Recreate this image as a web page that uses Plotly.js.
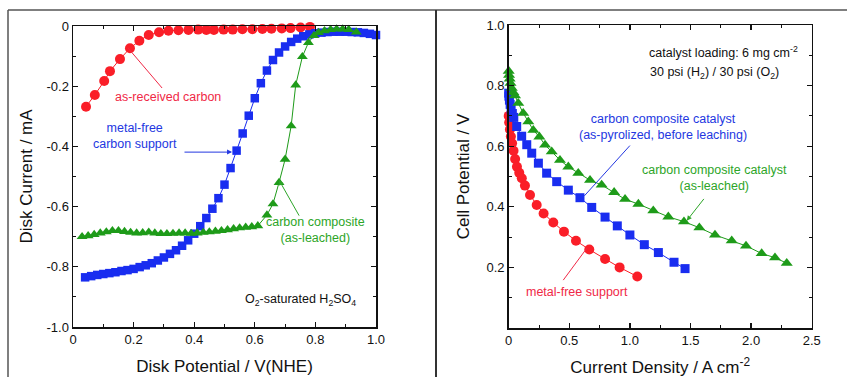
<!DOCTYPE html>
<html>
<head>
<meta charset="utf-8">
<script src="https://cdn.plot.ly/plotly-3.0.1.min.js"></script>
<style>html,body{margin:0;padding:0;background:#fff;}#chart{width:847px;height:377px;}</style>
</head>
<body>
<div id="chart"></div>
<script>
// ---------- Left panel: RDE disk current ----------
const asReceivedX = [0.043,0.072,0.103,0.122,0.155,0.188,0.219,0.25,0.284,0.315,0.348,0.381,0.413,0.44,0.465,0.497,0.527,0.559,0.592,0.625,0.655,0.689,0.718,0.751,0.782];
const asReceivedY = [-0.268,-0.229,-0.183,-0.150,-0.110,-0.074,-0.049,-0.030,-0.021,-0.016,-0.014,-0.013,-0.012,-0.013,-0.013,-0.012,-0.012,-0.011,-0.011,-0.010,-0.009,-0.008,-0.007,-0.005,-0.003];

const metalFreeX = [0.04,0.06,0.08,0.10,0.12,0.14,0.16,0.18,0.20,0.22,0.24,0.26,0.28,0.30,0.32,0.34,0.36,0.38,0.40,0.42,0.44,0.46,0.48,0.50,0.52,0.54,0.56,0.58,0.60,0.62,0.64,0.66,0.68,0.70,0.72,0.74,0.76,0.78,0.80,0.82,0.84,0.86,0.88,0.90,0.92,0.94,0.96,0.98,1.00];
const metalFreeY = [-0.835,-0.831,-0.827,-0.824,-0.821,-0.818,-0.814,-0.811,-0.807,-0.801,-0.795,-0.788,-0.779,-0.769,-0.757,-0.745,-0.730,-0.712,-0.690,-0.665,-0.638,-0.607,-0.572,-0.527,-0.472,-0.414,-0.357,-0.298,-0.240,-0.190,-0.148,-0.113,-0.088,-0.068,-0.053,-0.042,-0.034,-0.028,-0.024,-0.022,-0.020,-0.019,-0.019,-0.019,-0.020,-0.021,-0.023,-0.026,-0.030];

const compositeX = [0.03,0.05,0.07,0.09,0.11,0.13,0.15,0.17,0.19,0.21,0.23,0.25,0.27,0.29,0.31,0.33,0.35,0.37,0.39,0.41,0.43,0.45,0.47,0.49,0.51,0.53,0.55,0.57,0.59,0.61,0.64,0.66,0.68,0.70,0.72,0.735,0.757,0.777,0.795,0.81,0.83,0.85,0.87,0.89,0.91,0.935];
const compositeY = [-0.700,-0.697,-0.693,-0.688,-0.684,-0.680,-0.680,-0.683,-0.686,-0.688,-0.687,-0.685,-0.688,-0.690,-0.690,-0.689,-0.688,-0.688,-0.689,-0.688,-0.686,-0.684,-0.682,-0.680,-0.677,-0.674,-0.671,-0.669,-0.667,-0.664,-0.628,-0.591,-0.520,-0.443,-0.332,-0.196,-0.102,-0.055,-0.032,-0.022,-0.016,-0.012,-0.010,-0.010,-0.012,-0.020];

const leftXTickVals = [0,0.2,0.4,0.6,0.8,1.0];
const leftXTickText = ["0","0.2","0.4","0.6","0.8","1.0"];
const leftYTickVals = [-1.0,-0.8,-0.6,-0.4,-0.2,0];
const leftYTickText = ["-1.0","-0.8","-0.6","-0.4","-0.2","0"];

// ---------- Right panel: fuel cell polarization ----------
const supportX = [0,0.004,0.01,0.018,0.028,0.04,0.053,0.068,0.087,0.108,0.134,0.176,0.231,0.288,0.368,0.456,0.555,0.665,0.795,0.915,1.061];
const supportY = [0.700,0.678,0.655,0.632,0.610,0.585,0.558,0.532,0.512,0.494,0.470,0.439,0.406,0.378,0.348,0.318,0.288,0.259,0.228,0.200,0.170];

const pyrolizedX = [0,0.002,0.006,0.012,0.02,0.03,0.042,0.066,0.107,0.149,0.19,0.245,0.313,0.396,0.492,0.588,0.685,0.795,0.896,1.0,1.119,1.235,1.364,1.455];
const pyrolizedY = [0.775,0.765,0.752,0.738,0.722,0.708,0.695,0.665,0.633,0.605,0.577,0.544,0.511,0.483,0.455,0.430,0.398,0.366,0.337,0.307,0.275,0.249,0.217,0.196];

const leachedX = [0,0.003,0.008,0.015,0.025,0.038,0.052,0.079,0.12,0.162,0.203,0.253,0.30,0.355,0.423,0.492,0.574,0.671,0.767,0.87,0.96,1.07,1.193,1.317,1.446,1.573,1.702,1.84,1.958,2.087,2.197,2.294];
const leachedY = [0.848,0.835,0.822,0.808,0.792,0.778,0.767,0.742,0.709,0.681,0.653,0.631,0.604,0.582,0.554,0.532,0.511,0.488,0.472,0.448,0.425,0.409,0.387,0.367,0.351,0.331,0.307,0.288,0.271,0.246,0.232,0.214];

const rightXTickVals = [0,0.5,1.0,1.5,2.0,2.5];
const rightXTickText = ["0","0.5","1.0","1.5","2.0","2.5"];
const rightYTickVals = [0.2,0.4,0.6,0.8,1.0];
const rightYTickText = ["0.2","0.4","0.6","0.8","1.0"];

// ---------- styles ----------
const RED = 'rgb(250,30,40)', BLUE = 'rgb(25,45,240)', GREEN = 'rgb(30,155,25)';
const TRED = 'rgb(240,40,70)', TBLUE = 'rgb(35,55,225)', TGREEN = 'rgb(45,165,40)';
const FONT = 'Liberation Sans, Arial, Helvetica, sans-serif';
const W = 847, H = 377;
const px = v => v / W, py = v => 1 - v / H;

function series(x, y, xa, ya, color, symbol, size) {
  return {x, y, xaxis: xa, yaxis: ya, type: 'scatter', mode: 'lines+markers', cliponaxis: false,
    line: {color, width: 1}, marker: {color, symbol, size, line: {width: 0}}, showlegend: false, hoverinfo: 'x+y'};
}

const traces = [
  series(asReceivedX, asReceivedY, 'x', 'y', RED, 'circle', 10),
  series(metalFreeX, metalFreeY, 'x', 'y', BLUE, 'square', 8.5),
  series(compositeX, compositeY, 'x', 'y', GREEN, 'triangle-up', 9.5),
  series(supportX, supportY, 'x2', 'y2', RED, 'circle', 10),
  series(pyrolizedX, pyrolizedY, 'x2', 'y2', BLUE, 'square', 9),
  series(leachedX, leachedY, 'x2', 'y2', GREEN, 'triangle-up', 10.5)
];

function axis(extra) {
  return Object.assign({
    showline: true, linecolor: '#111', linewidth: 1.5, mirror: 'allticks',
    ticks: 'inside', ticklen: 5, tickwidth: 1.2, tickcolor: '#111',
    showgrid: false, zeroline: false, tickmode: 'array', fixedrange: true,
    tickfont: {family: FONT, size: 13, color: '#111'}
  }, extra);
}
const minorStyle = (dt) => ({dtick: dt, tick0: 0, ticklen: 3, tickwidth: 1, tickcolor: '#111', ticks: 'inside', showgrid: false});

const titleFont = {family: FONT, size: 17, color: '#111'};

const annFont = (c) => ({family: FONT, size: 12.5, color: c});
function text(t, x, y, xr, yr, c, xanchor) {
  return {text: t, x, y, xref: xr, yref: yr, showarrow: false, font: annFont(c), xanchor: xanchor || 'center', yanchor: 'middle', align: 'center'};
}
function arrow(x, y, ax, ay, xr, yr, c) {
  return {text: '', x, y, ax, ay, xref: xr, yref: yr, axref: xr, ayref: yr, showarrow: true,
    arrowhead: 2, arrowsize: 1, arrowwidth: 1, arrowcolor: c, standoff: 0, startstandoff: 0};
}
function seg(x0, y0, x1, y1, xr, yr, c) {
  return {type: 'line', xref: xr, yref: yr, x0, y0, x1, y1, line: {color: c, width: 1}};
}

const annotations = [
  text('as-received carbon', 0.3135, -0.236, 'x', 'y', TRED),
  text('metal-free<br>carbon support', 0.205, -0.367, 'x', 'y', TBLUE),
  arrow(0.525, -0.419, 0.363, -0.419, 'x', 'y', TBLUE),
  text('carbon composite<br>(as-leached)', 0.799, -0.678, 'x', 'y', TGREEN),
  arrow(0.68, -0.512, 0.749, -0.635, 'x', 'y', TGREEN),
  text('O<sub>2</sub>-saturated H<sub>2</sub>SO<sub>4</sub>', 0.941, -0.91, 'x', 'y', '#111', 'right'),

  text('catalyst loading: 6 mg cm<sup>-2</sup>', 1.141, 0.911, 'x2', 'y2', '#111', 'left'),
  text('30 psi (H<sub>2</sub>) / 30 psi (O<sub>2</sub>)', 1.147, 0.842, 'x2', 'y2', '#111', 'left'),
  text('carbon composite catalyst<br>(as-pyrolized, before leaching)', 1.27, 0.665, 'x2', 'y2', TBLUE),
  text('carbon composite catalyst<br>(as-leached)', 1.702, 0.495, 'x2', 'y2', TGREEN),
  arrow(1.469, 0.354, 1.62, 0.431, 'x2', 'y2', TGREEN),
  text('metal-free support', 0.561, 0.12, 'x2', 'y2', TRED)
];

const frame = {type: 'line', xref: 'paper', yref: 'paper', line: {color: '#555', width: 1.5}};
const shapes = [
  Object.assign({}, frame, {x0: px(8), x1: 1, y0: py(10), y1: py(10)}),
  Object.assign({}, frame, {x0: px(8), x1: px(8), y0: py(10), y1: 0}),
  Object.assign({}, frame, {x0: px(436), x1: px(436), y0: py(10), y1: 0, line: {color: '#333', width: 2}}),
  seg(0.1815, -0.073, 0.294, -0.206, 'x', 'y', TRED),
  seg(0.624, 0.436, 1.0, 0.602, 'x2', 'y2', TBLUE),
  seg(0.644, 0.263, 0.45, 0.158, 'x2', 'y2', TRED)
];

const layout = {
  width: W, height: H, margin: {l: 0, r: 0, t: 0, b: 0},
  paper_bgcolor: '#fff', plot_bgcolor: '#fff', showlegend: false,
  font: {family: FONT},
  xaxis: axis({domain: [px(73), px(376)], range: [0, 1.0], anchor: 'y',
    tickvals: leftXTickVals, ticktext: leftXTickText, minor: minorStyle(0.1),
    title: {text: 'Disk Potential / V(NHE)', font: titleFont, standoff: 14}}),
  yaxis: axis({domain: [1 - 327 / H, 1 - 26 / H], range: [-1.0, 0], anchor: 'x',
    tickvals: leftYTickVals, ticktext: leftYTickText, minor: minorStyle(0.1),
    title: {text: 'Disk Current / mA', font: titleFont, standoff: 9}}),
  xaxis2: axis({domain: [px(508.7), px(811.7)], range: [0, 2.5], anchor: 'y2',
    tickvals: rightXTickVals, ticktext: rightXTickText, minor: minorStyle(0.25),
    title: {text: 'Current Density / A cm<sup>-2</sup>', font: titleFont, standoff: 16}}),
  yaxis2: axis({domain: [1 - 328 / H, 1 - 25 / H], range: [0, 1.0], anchor: 'x2',
    tickvals: rightYTickVals, ticktext: rightYTickText, minor: minorStyle(0.1),
    title: {text: 'Cell Potential / V', font: titleFont, standoff: 12}}),
  annotations, shapes
};

Plotly.newPlot('chart', traces, layout, {staticPlot: true, displayModeBar: false});
</script>
</body>
</html>
